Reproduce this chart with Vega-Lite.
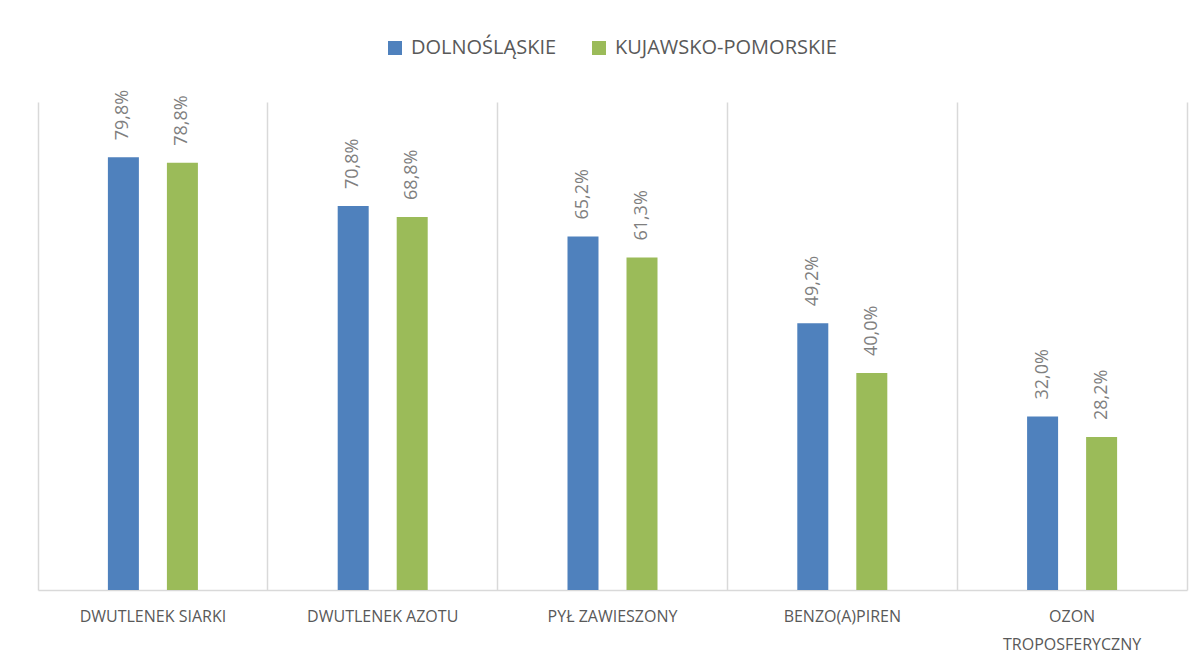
{
  "$schema": "https://vega.github.io/schema/vega-lite/v6.json",
  "width": 1149,
  "height": 488,
  "autosize": {"type": "none"},
  "padding": {"left": 38, "top": 102, "right": 13, "bottom": 78},
  "background": "white",
  "config": {
    "locale": {"number": {"decimal": ",", "thousands": " ", "grouping": [3], "currency": ["", " zł"]}},
    "view": {"stroke": null},
    "font": "Open Sans"
  },
  "data": {
    "values": [
      {"cat": "DWUTLENEK SIARKI", "region": "DOLNOŚLĄSKIE", "v": 0.798},
      {"cat": "DWUTLENEK SIARKI", "region": "KUJAWSKO-POMORSKIE", "v": 0.788},
      {"cat": "DWUTLENEK AZOTU", "region": "DOLNOŚLĄSKIE", "v": 0.708},
      {"cat": "DWUTLENEK AZOTU", "region": "KUJAWSKO-POMORSKIE", "v": 0.688},
      {"cat": "PYŁ ZAWIESZONY", "region": "DOLNOŚLĄSKIE", "v": 0.652},
      {"cat": "PYŁ ZAWIESZONY", "region": "KUJAWSKO-POMORSKIE", "v": 0.613},
      {"cat": "BENZO(A)PIREN", "region": "DOLNOŚLĄSKIE", "v": 0.492},
      {"cat": "BENZO(A)PIREN", "region": "KUJAWSKO-POMORSKIE", "v": 0.400},
      {"cat": "OZON TROPOSFERYCZNY", "region": "DOLNOŚLĄSKIE", "v": 0.320},
      {"cat": "OZON TROPOSFERYCZNY", "region": "KUJAWSKO-POMORSKIE", "v": 0.282}
    ]
  },
  "encoding": {
    "x": {
      "field": "cat", "type": "nominal", "sort": null,
      "scale": {"paddingInner": 0, "paddingOuter": 0},
      "axis": {
        "title": null, "labelAngle": 0, "ticks": false,
        "domainColor": "#d9d9d9", "domainWidth": 1.5,
        "grid": true, "gridColor": "#d9d9d9", "gridWidth": 1.5, "bandPosition": 0,
        "labelFont": "Open Sans", "labelFontSize": 16, "labelColor": "#595959",
        "labelPadding": 18, "labelLineHeight": 28, "labelLimit": 300,
        "labelExpr": "datum.label == 'OZON TROPOSFERYCZNY' ? ['OZON', 'TROPOSFERYCZNY'] : datum.label"
      }
    },
    "xOffset": {
      "field": "region", "type": "nominal", "sort": null,
      "scale": {"paddingInner": 0, "paddingOuter": 0.947}
    },
    "y": {
      "field": "v", "type": "quantitative",
      "scale": {"domain": [0, 0.9]},
      "axis": {"orient": "right", "domain": true, "domainColor": "#d9d9d9", "domainWidth": 1.5, "labels": false, "ticks": false, "grid": false, "title": null}
    }
  },
  "layer": [
    {
      "mark": {"type": "bar", "width": 31},
      "encoding": {
        "color": {
          "field": "region", "type": "nominal", "sort": null,
          "scale": {"range": ["#4f81bd", "#9bbb59"]},
          "legend": {
            "title": null, "orient": "none", "legendX": 347, "legendY": -64,
            "direction": "horizontal", "symbolType": "square", "symbolSize": 196,
            "symbolStrokeWidth": 0, "labelFontSize": 20, "labelColor": "#595959",
            "labelFont": "Open Sans", "labelLimit": 400, "columnPadding": 32, "labelOffset": 6
          }
        }
      }
    },
    {
      "mark": {"type": "text", "angle": 270, "align": "left", "baseline": "middle", "dx": 17, "fontSize": 18, "font": "Open Sans", "color": "#7f7f7f"},
      "encoding": {
        "text": {"field": "v", "type": "quantitative", "format": ".1%"}
      }
    }
  ]
}
